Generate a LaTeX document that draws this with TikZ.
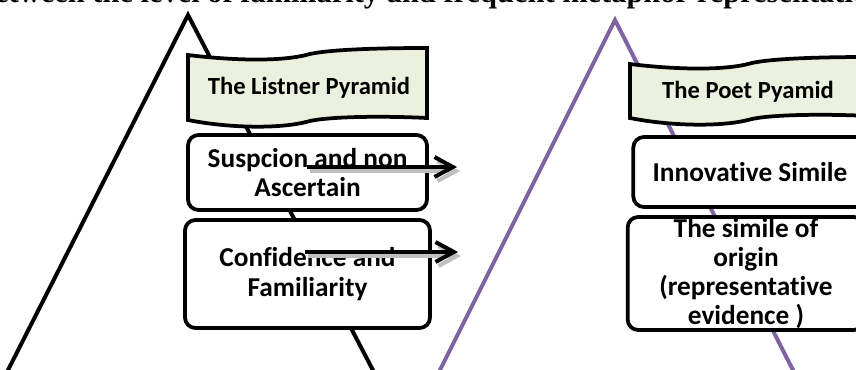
\documentclass[tikz,border=0pt]{standalone}
\usepackage{fontspec}
\setsansfont{Carlito}[Ligatures={NoCommon}]
\newfontfamily\headfont{Liberation Serif}
\usetikzlibrary{arrows.meta}

\definecolor{bannerfill}{RGB}{235,241,222}
\definecolor{poetline}{RGB}{128,100,162}

\begin{document}
\begin{tikzpicture}[x=0.03cm, y=-0.03cm,
		pyr/.style={line width=3.4pt},
		boxtext/.style={font=\sffamily\bfseries\fontsize{23.3}{25}\selectfont, align=center, inner sep=0pt},
		bannertext/.style={font=\sffamily\bfseries\fontsize{21}{24}\selectfont, inner sep=0pt},
		levelbox/.style={draw, line width=3.2pt, rounded corners=9pt, fill=white, inner sep=0pt},
		flow/.style={line width=3.4pt, -{Straight Barb[length=5.5mm,width=6mm]}},
		flowshadow/.style={flow, draw=black!25}]
	\useasboundingbox (0,0) rectangle (856,370);
	% heading, cut off by the page
	\node[anchor=base, inner sep=0pt, font=\headfont\bfseries\fontsize{26}{30}\selectfont] (head) at (430,2.5)
		{Between the level of familiarity and frequent metaphor representation};
	% the two pyramids
	\coordinate (ltop) at (188,15);
	\coordinate (lbl) at (4,378);
	\coordinate (lbr) at (377,378);
	\coordinate (ptop) at (615,20);
	\coordinate (pbl) at (436,378);
	\coordinate (pbr) at (797,378);
	\draw[pyr] (lbl) -- (ltop) -- (lbr);
	\draw[pyr, poetline] (pbl) -- (ptop) -- (pbr);
	% wave banners
	\foreach \bx/\by/\bh in {188/48/70, 630/57/59}{
		\draw[line width=3.2pt, fill=bannerfill]
			(\bx,\by+7) .. controls (\bx+40,\by+12) and (\bx+90,\by+14) .. (\bx+118,\by+7)
			.. controls (\bx+138,\by+1) and (\bx+200,\by) .. (\bx+239,\by)
			-- (\bx+239,\by+\bh)
			.. controls (\bx+200,\by+\bh-2) and (\bx+138,\by+\bh-2) .. (\bx+118,\by+\bh+4)
			.. controls (\bx+90,\by+\bh+11) and (\bx+40,\by+\bh+10) .. (\bx,\by+\bh+2) -- cycle;
	}
	\node[bannertext] (listner) at (309,88) {The Listner Pyramid};
	\node[bannertext] (poet) at (748,92) {The Poet Pyamid};
	% listener levels
	\node[levelbox, boxtext, minimum width=7.17cm, minimum height=2.25cm] (susp) at (307.5,172.5)
		{Suspcion and non\\Ascertain};
	\node[levelbox, boxtext, minimum width=7.35cm, minimum height=3.24cm] (conf) at (307.5,274)
		{Confidence and\\Familiarity};
	% poet levels
	\node[levelbox, boxtext, minimum width=7.0cm, minimum height=2.1cm] (innov) at (750,172)
		{Innovative Simile};
	\node[levelbox, minimum width=7.1cm, minimum height=3.39cm] (orig) at (746,273.5) {};
	\node[boxtext] (origtxt) at (orig.center)
		{The simile of\\origin\\(representative\\evidence )};
	% arrows
	\coordinate (a1) at (307,167);
	\coordinate (b1) at (457,167);
	\coordinate (a2) at (305,252);
	\coordinate (b2) at (458,252);
	\draw[flowshadow] ([shift={(3,4)}]a1) -- ([shift={(3,4)}]b1);
	\draw[flowshadow] ([shift={(3,4)}]a2) -- ([shift={(3,4)}]b2);
	\draw[flow] (a1) -- (b1);
	\draw[flow] (a2) -- (b2);
\end{tikzpicture}
\end{document}
